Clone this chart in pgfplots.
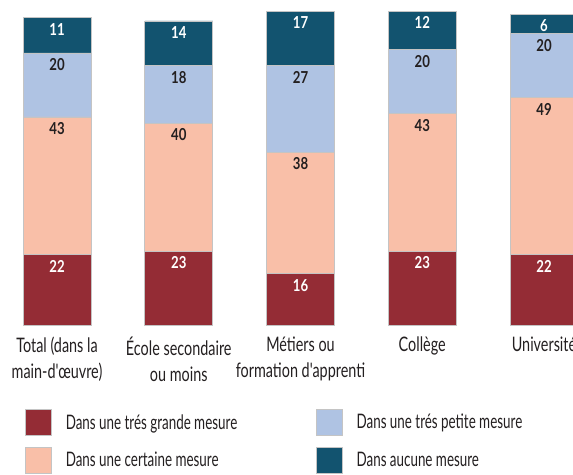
\documentclass[border=0pt]{standalone}
\usepackage{fontspec}
\setmainfont{Lato}[FakeStretch=0.67]
\newfontfamily\tickfont{Lato}[FakeStretch=0.72]
\newfontfamily\numfont{Lato}[FakeStretch=0.8]
\usepackage{pgfplots}
\pgfplotsset{compat=1.18}
\definecolor{cRed}{HTML}{942C35}
\definecolor{cSalmon}{HTML}{F9BFA8}
\definecolor{cBlue}{HTML}{AFC3E3}
\definecolor{cTeal}{HTML}{12536F}
\definecolor{cBorder}{HTML}{C4C4C4}
\definecolor{cText}{HTML}{231F20}
\begin{document}
\begin{tikzpicture}
\useasboundingbox (0,0) rectangle (573pt,474pt);
\clip (0,0) rectangle (573pt,474pt);
\begin{axis}[
  at={(0pt,149pt)}, anchor=south west,
  scale only axis, width=573pt, height=325pt,
  xmin=-0.4682, xmax=4.2382, ymin=0, ymax=101.5625,
  ybar stacked, bar width=68pt,
  axis line style={draw=none}, ytick=\empty,
  xtick={0,1,2,3,4}, major tick length=0pt,
  xticklabels={{Total (dans la\\main-d'œuvre)},{École secondaire\\ou moins},{Métiers ou\\formation d'apprenti},{Collège},{Université}},
  xticklabel style={align=center, font=\tickfont\fontsize{20}{26}\selectfont, text=cText, yshift=-8pt},
  clip=false,
  nodes near coords,
  /pgf/number format/assume math mode=true,
  every node near coord/.append style={font=\numfont\bfseries\fontsize{16.5}{18}\selectfont, anchor=center, yshift={1.6*\rawy*1pt-11.5pt}},
  legend columns=2, transpose legend,
  legend image code/.code={\draw[#1,draw=cBorder,line width=0.8pt] (0pt,-13pt) rectangle (26pt,13pt);},
  legend style={at={(0.04363,-0.2585)}, anchor=north west, draw=none, fill=none,
    inner sep=0pt, outer sep=0pt, row sep=11pt,
    nodes={inner sep=0pt},
    font=\fontsize{20}{22}\selectfont, text=cText,
    /tikz/every odd column/.style={column sep=14pt},
    /tikz/every even column/.style={column sep=0pt}},
]
\addplot+[fill=cRed, draw=cBorder, line width=0.8pt, every node near coord/.append style={text=white}, visualization depends on={\thisrow{y} \as \rawy}] table {
x y
0 22
1 23
2 16
3 23
4 22
};
\addplot+[fill=cSalmon, draw=cBorder, line width=0.8pt, every node near coord/.append style={text=cText}, visualization depends on={\thisrow{y} \as \rawy}] table {
x y
0 43
1 40
2 38
3 43
4 49
};
\addplot+[fill=cBlue, draw=cBorder, line width=0.8pt, every node near coord/.append style={text=cText}, visualization depends on={\thisrow{y} \as \rawy}] table {
x y
0 20
1 18
2 27
3 20
4 20
};
\addplot+[fill=cTeal, draw=cBorder, line width=0.8pt, every node near coord/.append style={text=white}, visualization depends on={\thisrow{y} \as \rawy}] table {
x y
0 11
1 14
2 17
3 12
4 6
};
\legend{\makebox[250pt][l]{Dans une trés grande mesure},\makebox[250pt][l]{Dans une certaine mesure},\makebox[250pt][l]{Dans une trés petite mesure},\makebox[250pt][l]{Dans aucune mesure}}
\end{axis}
\end{tikzpicture}
\end{document}
